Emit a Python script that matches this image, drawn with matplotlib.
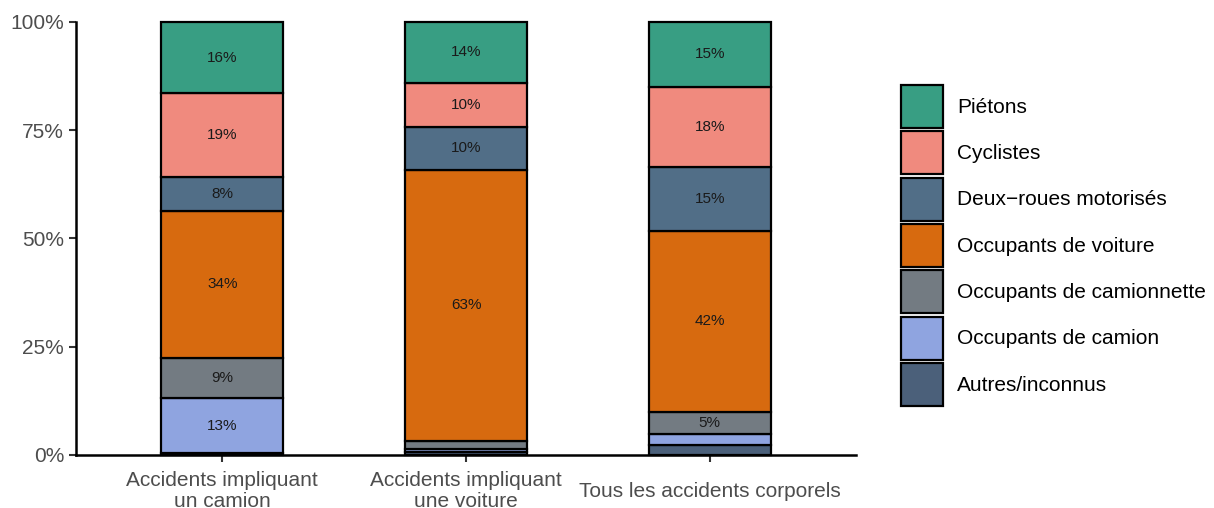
import numpy as np
from matplotlib import pyplot as plt
from matplotlib.patches import Patch

plt.rcParams['font.family'] = ['Liberation Sans', 'DejaVu Sans']

categories = ['Accidents impliquant\nun camion', 'Accidents impliquant\nune voiture',
              'Tous les accidents corporels']
# bottom to top
groups = ['Autres/inconnus', 'Occupants de camion', 'Occupants de camionnette',
          'Occupants de voiture', 'Deux\u2212roues motorisés', 'Cyclistes', 'Piétons']
colors = ['#4B607A', '#8FA4E0', '#737B82', '#D76A0F', '#516E87', '#F08A7E', '#389E83']

autres = [0.4, 0.7, 2.4]
camion = [12.8, 0.8, 2.4]
camionnette = [9.2, 1.8, 5.2]
voiture = [34.0, 62.6, 41.7]
deux_roues = [7.8, 9.9, 14.9]
cyclistes = [19.4, 10.2, 18.4]
pietons = [16.4, 14.0, 15.0]

series = [autres, camion, camionnette, voiture, deux_roues, cyclistes, pietons]

fig = plt.figure(figsize=(12.14, 5.08), dpi=100)
ax = fig.add_axes([76 / 1214, 53 / 508, 780 / 1214, 433 / 508])

x = np.arange(1, len(categories) + 1)
bottom = np.zeros(len(categories))
for vals, col in zip(series, colors):
    v = np.array(vals) / 100
    ax.bar(x, v, 0.5, bottom=bottom, color=col, edgecolor='black', linewidth=1.6,
           clip_on=False, zorder=2)
    for xi, b, h in zip(x, bottom, v):
        if round(h * 100) >= 5:
            ax.text(xi, b + h / 2, '%d%%' % round(h * 100), ha='center', va='center',
                    fontsize=11, color='#1a1a1a', zorder=3)
    bottom += v

ax.set_xlim(0.4, 3.6)
ax.set_ylim(0, 1)
ax.set_yticks([0, 0.25, 0.5, 0.75, 1])
ax.set_yticklabels(['0%', '25%', '50%', '75%', '100%'])
ax.set_xticks(x)
ax.set_xticklabels(categories, va='center', linespacing=1.15)
ax.tick_params(axis='x', pad=21)
ax.tick_params(labelsize=15, labelcolor='#4D4D4D', length=5, width=1.5, color='#333333')
for s in ['top', 'right']:
    ax.spines[s].set_visible(False)
for s in ['left', 'bottom']:
    ax.spines[s].set_linewidth(1.8)

handles = [Patch(facecolor=c, edgecolor='black', linewidth=1.6) for c in colors[::-1]]
fig.legend(handles, groups[::-1], loc='upper left', bbox_to_anchor=(901 / 1214, 1 - 85 / 508),
           frameon=False, fontsize=15, handlelength=2.0, handleheight=2.8,
           labelspacing=0.16, handletextpad=0.7, borderpad=0, borderaxespad=0)

fig.savefig('out.png', dpi=100)
